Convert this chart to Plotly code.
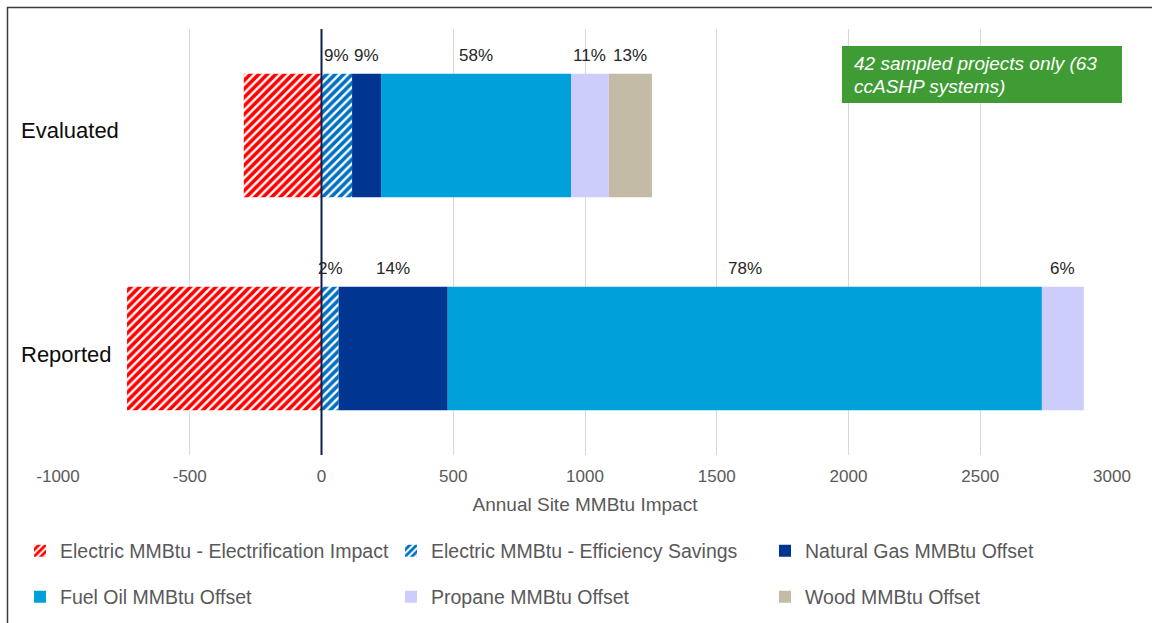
import plotly.graph_objects as go

# ---------------- data ----------------
categories = ["Evaluated", "Reported"]
series_names = [
    "Electric MMBtu - Electrification Impact",
    "Electric MMBtu - Efficiency Savings",
    "Natural Gas MMBtu Offset",
    "Fuel Oil MMBtu Offset",
    "Propane MMBtu Offset",
    "Wood MMBtu Offset",
]
elec_impact = [-295, -738]
eff_savings = [116, 65]
nat_gas = [110, 414]
fuel_oil = [721, 2255]
propane = [143, 159]
wood = [164, 0]
pct_labels_evaluated = ["9%", "9%", "58%", "11%", "13%"]
pct_labels_reported = ["2%", "14%", "78%", "6%", ""]
x_ticks = [-1000, -500, 0, 500, 1000, 1500, 2000, 2500, 3000]
x_tick_text = ["-1000", "-500", "0", "500", "1000", "1500", "2000", "2500", "3000"]
note_lines = ["42 sampled projects only (63", "ccASHP systems)"]
x_title = "Annual Site MMBtu Impact"

# ---------------- styling ----------------
FONT = "Liberation Sans, Arial, sans-serif"
GREY = "#595959"
colors = ["#ff0000", "#0070c0", "#003591", "#00a0da", "#cdcdfc", "#c3bba6"]
patterns = ["/", "/", "", "", "", ""]
values = [elec_impact, eff_savings, nat_gas, fuel_oil, propane, wood]
# legend entry positions (px, left of entry, centre row)
legend_px_x = [20, 391, 765, 20, 391, 765]
legend_px_y = [551, 551, 551, 597, 597, 597]

# plot area geometry (px)
W, H = 1152, 623
L, R, T, B = 58, 40, 29, 168
pw, ph = W - L - R, H - T - B


def px_x(px):
    return (px - L) / pw


def px_y(py):
    return (H - B - py) / ph


fig = go.Figure()
legend_layouts = {}
for i, (name, vals) in enumerate(zip(series_names, values)):
    marker = dict(color=colors[i], line=dict(width=0))
    if patterns[i]:
        marker = dict(
            color="white",
            line=dict(width=0),
            pattern=dict(shape=patterns[i], fgcolor=colors[i], bgcolor="white",
                         size=6, solidity=0.6, fillmode="replace"),
        )
    lname = "legend" if i == 0 else f"legend{i + 1}"
    fig.add_trace(go.Bar(
        y=categories, x=vals, name=name, orientation="h",
        marker=marker, width=0.58, legend=lname,
        hoverinfo="x+name",
    ))
    legend_layouts[lname] = dict(
        orientation="h", x=px_x(legend_px_x[i]), xanchor="left",
        y=px_y(legend_px_y[i]), yanchor="middle",
        font=dict(family=FONT, size=19.5, color=GREY),
        bgcolor="rgba(0,0,0,0)",
    )

# percentage labels above positive segments
annotations = []
pos_series = [eff_savings, nat_gas, fuel_oil, propane, wood]
for ci, (cat, labels) in enumerate(zip(categories, [pct_labels_evaluated, pct_labels_reported])):
    start = 0
    for s, lab in zip(pos_series, labels):
        v = s[ci]
        if lab:
            annotations.append(dict(
                x=start + v / 2, y=cat, xref="x", yref="y", text=lab,
                showarrow=False, yshift=80, font=dict(family=FONT, size=17, color="#262626"),
            ))
        start += v

# category labels (left aligned)
for ci, cat in enumerate(categories):
    annotations.append(dict(
        x=px_x(19), xref="paper", y=cat, yref="y", text=cat, xanchor="left",
        showarrow=False, yshift=5 if ci == 0 else -6,
        font=dict(family=FONT, size=22, color="#0d0d0d"),
    ))

# note text (two lines)
for li, line in enumerate(note_lines):
    annotations.append(dict(
        x=px_x(852), y=px_y(64 + 22 * li), xref="paper", yref="paper", text="<i>" + line + "</i>",
        xanchor="left", yanchor="middle", align="left", showarrow=False,
        font=dict(family=FONT, size=19, color="white"),
    ))

shapes = [
    # zero line
    dict(type="line", xref="x", yref="paper", x0=0, x1=0, y0=0, y1=1,
         line=dict(color="#0e1f4d", width=2), layer="above"),
    # green note box
    dict(type="rect", xref="paper", yref="paper", x0=px_x(842), x1=px_x(1122),
         y0=px_y(103), y1=px_y(46), fillcolor="#3f9c35", line=dict(width=0), layer="above"),
    # chart frame
    dict(type="rect", xref="paper", yref="paper", x0=px_x(7.5), x1=px_x(1250),
         y0=px_y(700), y1=px_y(7.5), line=dict(color="#3a3a3a", width=1.5),
         fillcolor="rgba(0,0,0,0)", layer="above"),
]

fig.update_layout(
    width=W, height=H,
    margin=dict(l=L, r=R, t=T, b=B, autoexpand=False),
    paper_bgcolor="white", plot_bgcolor="white",
    barmode="relative",
    font=dict(family=FONT, size=16, color=GREY),
    showlegend=True,
    annotations=annotations,
    shapes=shapes,
    xaxis=dict(
        range=[-1000, 3000], tickvals=x_ticks, ticktext=x_tick_text,
        showgrid=True, gridcolor="#d9d9d9", gridwidth=1,
        zeroline=False, showline=False, ticks="outside", ticklen=6,
        tickcolor="rgba(0,0,0,0)",
        tickfont=dict(family=FONT, size=17, color=GREY),
        title=dict(text=x_title, font=dict(family=FONT, size=19, color=GREY), standoff=12),
        fixedrange=True,
    ),
    yaxis=dict(
        categoryorder="array", categoryarray=categories[::-1],
        range=[-0.5, 1.5], showticklabels=False, showgrid=False, zeroline=False,
        showline=False, ticks="", fixedrange=True,
    ),
    **legend_layouts,
)

fig.write_html(
    "out.html",
    config={"displayModeBar": False},
    post_script="document.body.style.margin='0';document.body.style.padding='0';",
)
